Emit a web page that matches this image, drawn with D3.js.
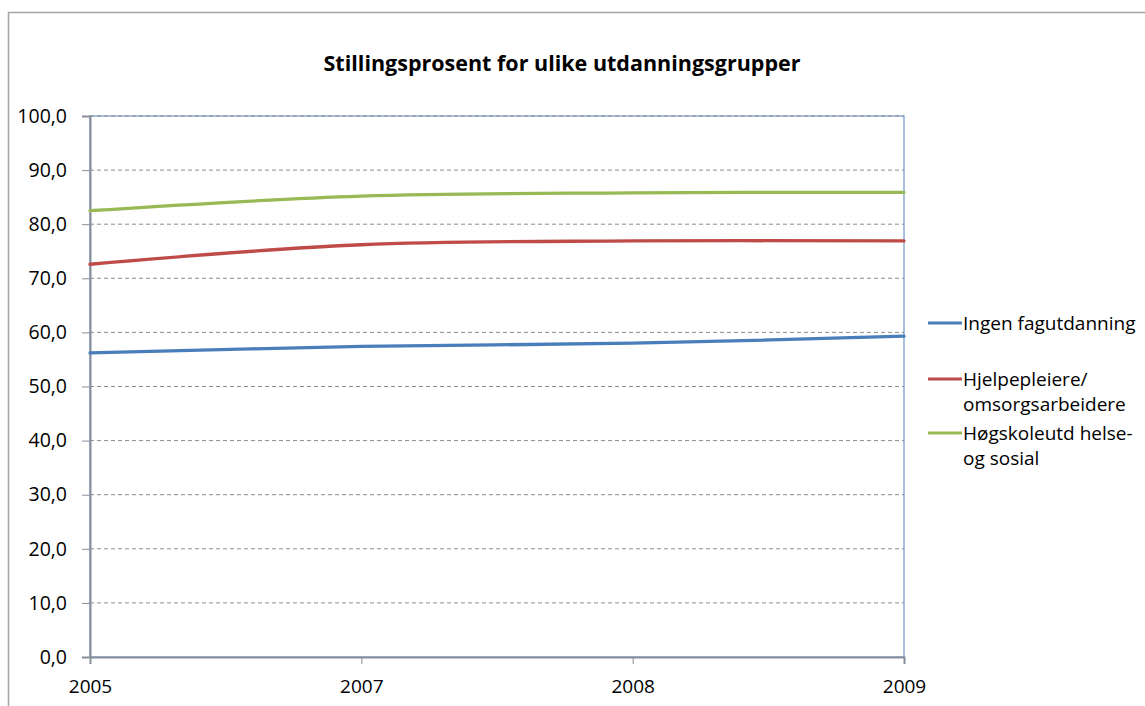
<!DOCTYPE html>
<html>
<head>
<meta charset="utf-8">
<script src="https://cdn.jsdelivr.net/npm/d3@7"></script>
<style>
  body { margin: 0; background: #fff; }
  text { font-family: "Open Sans", sans-serif; fill: #000; }
</style>
</head>
<body>
<div id="chart"></div>
<script>
/* chart data */
var YEARS = ["2005", "2007", "2008", "2009"];
var SERIES_NAMES = ["Ingen fagutdanning", "Hjelpepleiere/omsorgsarbeidere", "Høgskoleutd helse- og sosial"];
var INGEN = [56.2, 57.4, 58.0, 59.3];
var HJELPEPLEIERE = [72.6, 76.2, 76.9, 76.9];
var HOGSKOLE = [82.5, 85.2, 85.8, 85.9];
var Y_TICKS = [0, 10, 20, 30, 40, 50, 60, 70, 80, 90, 100];
var TITLE = "Stillingsprosent for ulike utdanningsgrupper";

var COLORS = ["#4a7ebb", "#be4b48", "#98b954"];
/* legend labels wrap like the original */
var LEGEND_LINES = [["Ingen fagutdanning"], ["Hjelpepleiere/", "omsorgsarbeidere"], ["Høgskoleutd helse-", "og sosial"]];

var W = 1145, H = 706;
var margin = {top: 116, right: 241, bottom: 49, left: 90};

var svg = d3.select("#chart").append("svg").attr("width", W).attr("height", H);

/* outer chart border */
svg.append("rect")
    .attr("x", 8.5).attr("y", 12.5)
    .attr("width", W).attr("height", H)
    .attr("fill", "none")
    .attr("stroke", "#a5a5a5")
    .attr("stroke-width", 1.5);

svg.append("text")
    .attr("x", 562).attr("y", 71)
    .attr("text-anchor", "middle")
    .style("font-size", "21.5px")
    .style("font-weight", "bold")
    .text(TITLE);

var x = d3.scalePoint().domain(YEARS).range([margin.left, W - margin.right]).padding(0);
var y = d3.scaleLinear().domain([0, 100]).range([H - margin.bottom, margin.top]);

var nbLocale = d3.formatLocale({decimal: ",", thousands: " ", grouping: [3], currency: ["", " kr"]});
var fmt = nbLocale.format(".1f");

/* plot frame */
svg.append("rect")
    .attr("x", x(YEARS[0])).attr("y", y(100))
    .attr("width", x(YEARS[YEARS.length - 1]) - x(YEARS[0]))
    .attr("height", y(0) - y(100))
    .attr("fill", "none")
    .attr("stroke", "#6f97cc")
    .attr("stroke-width", 1.2);

/* gridlines */
svg.append("g").selectAll("line")
    .data(Y_TICKS.filter(function (d) { return d > 0; }))
    .enter().append("line")
    .attr("x1", x(YEARS[0])).attr("x2", x(YEARS[YEARS.length - 1]))
    .attr("y1", function (d) { return y(d); })
    .attr("y2", function (d) { return y(d); })
    .attr("stroke", "#8c8c8c")
    .attr("stroke-width", 1)
    .attr("stroke-dasharray", "4,3");

/* axes */
var yAxis = svg.append("g")
    .attr("transform", "translate(" + x(YEARS[0]) + ",0)")
    .call(d3.axisLeft(y).tickValues(Y_TICKS).tickFormat(fmt).tickSize(8).tickPadding(15));
yAxis.select(".domain").attr("stroke", "#868e9a").attr("stroke-width", 2);
yAxis.selectAll(".tick line").attr("stroke", "#868e9a");
yAxis.selectAll("text").style("font-size", "19.5px").style("font-family", "'Open Sans', sans-serif");

var xAxis = svg.append("g")
    .attr("transform", "translate(0," + y(0) + ")")
    .call(d3.axisBottom(x).tickSize(7).tickPadding(16));
xAxis.select(".domain").attr("stroke", "#868e9a").attr("stroke-width", 2);
xAxis.selectAll(".tick line").attr("stroke", "#868e9a");
xAxis.selectAll("text").style("font-size", "19px").style("font-family", "'Open Sans', sans-serif");

/* series lines */
var line = d3.line()
    .curve(d3.curveCatmullRom.alpha(0))
    .x(function (d, i) { return x(YEARS[i]); })
    .y(function (d) { return y(d); });

[INGEN, HJELPEPLEIERE, HOGSKOLE].forEach(function (values, i) {
    svg.append("path")
        .attr("d", line(values))
        .attr("fill", "none")
        .attr("stroke", COLORS[i])
        .attr("stroke-width", 3.3)
        .attr("stroke-linecap", "round");
});

/* legend */
var legendY = [323, 379, 433];
var legend = svg.append("g");
LEGEND_LINES.forEach(function (lines, i) {
    legend.append("line")
        .attr("x1", 928).attr("x2", 962)
        .attr("y1", legendY[i]).attr("y2", legendY[i])
        .attr("stroke", COLORS[i])
        .attr("stroke-width", 3);
    lines.forEach(function (t, j) {
        legend.append("text")
            .attr("x", 963)
            .attr("y", legendY[i] + 7 + j * 25)
            .style("font-size", "19px")
            .text(t);
    });
});
</script>
</body>
</html>
